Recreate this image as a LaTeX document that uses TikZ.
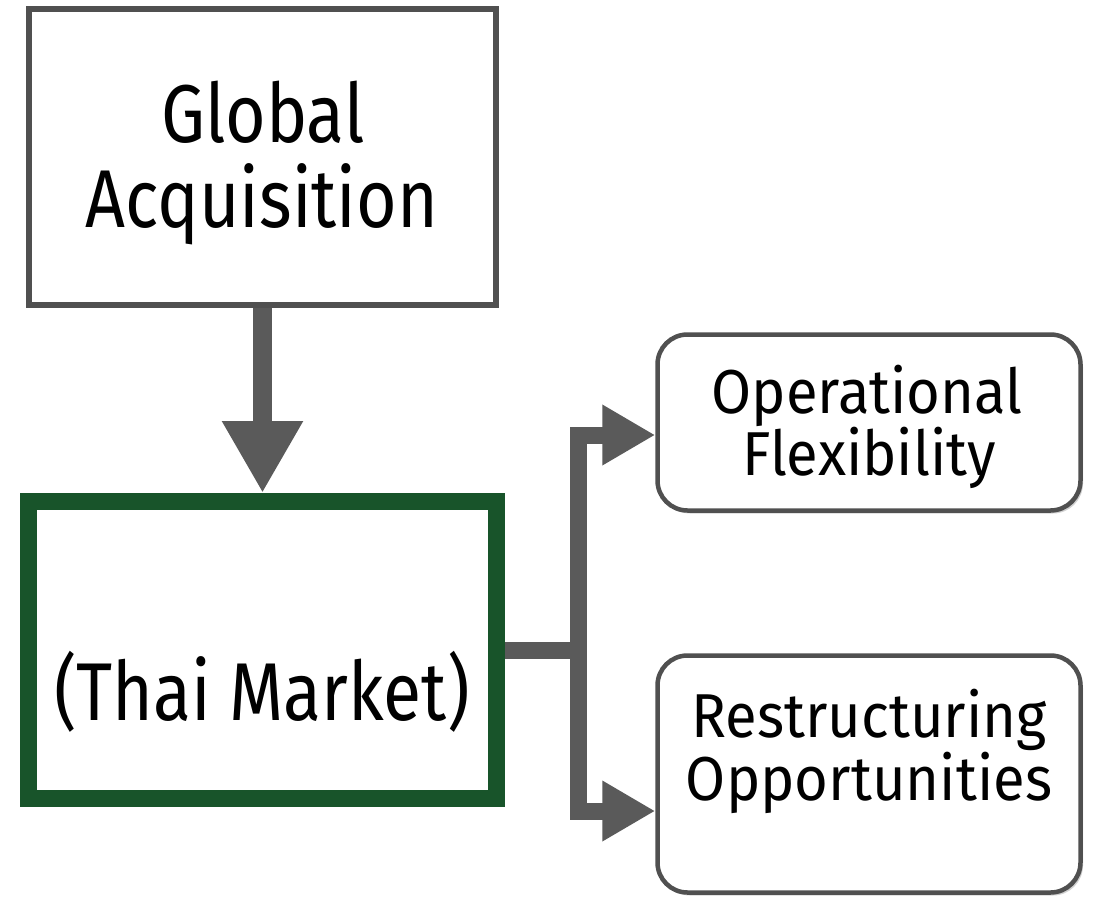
\documentclass[tikz,border=0pt]{standalone}
\usepackage{fontspec}
\setmainfont{Fira Sans}
\newfontfamily\bigfam{Fira Sans}[FakeStretch=0.85]
\newfontfamily\midfam{Fira Sans}[FakeStretch=0.935]
\usetikzlibrary{arrows.meta,shadows}
\definecolor{boxgray}{RGB}{80,80,80}
\definecolor{conngray}{RGB}{90,90,90}
\definecolor{mktgreen}{RGB}{24,84,42}
\begin{document}
\begin{tikzpicture}[x=1pt,y=-1pt,
  sqbox/.style={draw=boxgray,line width=6pt,fill=white,minimum width=467pt,minimum height=296pt,inner sep=0pt},
  greenbox/.style={draw=mktgreen,line width=17pt,fill=white,minimum width=468pt,minimum height=297pt,inner sep=0pt},
  rbox/.style={draw=boxgray,line width=4.5pt,fill=white,rounded corners=30pt,minimum width=423pt,inner sep=0pt,
    drop shadow={shadow xshift=2.5pt,shadow yshift=-3pt,opacity=0.35,fill=gray}},
  bigtxt/.style={anchor=base,inner sep=0pt,font=\bigfam\fontsize{82}{85}\selectfont},
  midtxt/.style={anchor=base,inner sep=0pt,font=\midfam\fontsize{62}{63}\selectfont},
  conn/.style={draw=conngray,line width=17pt,line join=miter},
  downarr/.style={draw=conngray,line width=19pt,-{Triangle[length=72pt,width=76pt]}},
  sidearr/.style={conn,-{Triangle[length=53pt,width=57pt]}}
]
\fill[white] (0,0) rectangle (1094,900);
\useasboundingbox (0,0) rectangle (1094,900);

\node[sqbox] (ga) at (262.5,157) {};
\node[greenbox] (tm) at (262.5,650) {};
\node[rbox,minimum height=176pt] (op) at (869,422.5) {};
\node[rbox,minimum height=237pt] (rs) at (869,774) {};

\node[bigtxt] (gat1) at (263,142) {Global};
\node[bigtxt] (gat2) at (262,227) {Acquisition};
\node[bigtxt] (tmt) at (262,720) {(Thai Market)};
\node[midtxt] (opt1) at (867,413) {Operational};
\node[midtxt] (opt2) at (869,475) {Flexibility};
\node[midtxt] (rst1) at (869,737) {Restructuring};
\node[midtxt] (rst2) at (869,800) {Opportunities};

\draw[downarr] (ga.south) -- (tm.north);

\coordinate (j) at (578,650);
\coordinate (a1) at (0,435);
\coordinate (a2) at (0,811);
\draw[sidearr] (tm.east) -- (j) |- (op.west |- a1);
\draw[sidearr] (tm.east) -- (j) |- (rs.west |- a2);
\end{tikzpicture}
\end{document}
